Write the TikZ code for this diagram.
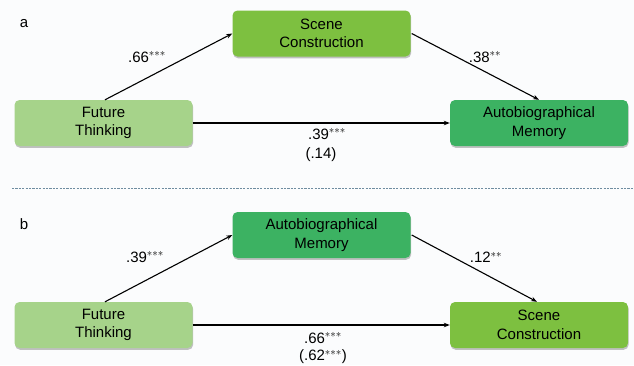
\documentclass[tikz,border=0pt]{standalone}
\usepackage{fontspec}
\setmainfont{Liberation Sans}
\usetikzlibrary{arrows.meta,shadows}
\definecolor{ftgreen}{RGB}{166,211,138}
\definecolor{scgreen}{RGB}{125,192,64}
\definecolor{amgreen}{RGB}{60,178,98}
\definecolor{dashblue}{RGB}{110,140,160}
\definecolor{bgc}{RGB}{251,252,253}
\tikzset{
  box/.style={rounded corners=5pt, minimum width=178pt, minimum height=46pt,
    align=center, inner sep=0pt, font=\fontsize{15}{18.5}\selectfont,
    drop shadow={shadow xshift=0.6pt, shadow yshift=-1.8pt, opacity=0.4, fill=black!60}},
  ftbox/.style={box, fill=ftgreen},
  scbox/.style={box, fill=scgreen},
  ambox/.style={box, fill=amgreen},
  conn/.style={-{Stealth[length=6pt,width=4.5pt]}, line width=1.1pt, black},
  coef/.style={font=\fontsize{15}{18}\selectfont, inner sep=0pt},
  panel/.style={font=\fontsize{15}{18}\selectfont, inner sep=0pt}
}
\begin{document}
\begin{tikzpicture}[x=1pt,y=-1pt]
\fill[bgc] (0,0) rectangle (634,365);
\useasboundingbox (0,0) rectangle (634,365);
% panel a
\node[panel] (la) at (24,24) {a};
\node[ftbox] (ftA) at (103.5,123) {Future\\Thinking};
\node[scbox] (scA) at (321.5,33.5) {Scene\\Construction};
\node[ambox] (amA) at (539,123) {Autobiographical\\Memory};
\draw[conn] ([xshift=1.5pt]ftA.north) -- (scA.west);
\draw[conn] ([xshift=1pt]scA.east) -- (amA.north);
\draw[conn] (ftA.east) -- (amA.west);
\node[coef] (c1) at (147,57) {.66$^{***}$};
\node[coef] (c2) at (485,57) {.38$^{**}$};
\node[coef] (c3) at (327,134) {.39$^{***}$};
\node[coef] (c4) at (321,155) {(.14)};
% divider
\coordinate (dl) at (12,188);
\coordinate (dr) at (634,188);
\draw[dashblue, line width=0.7pt, dash pattern=on 2.2pt off 1.2pt] (dl) -- (dr);
% panel b
\node[panel] (lb) at (24,224) {b};
\node[ftbox] (ftB) at (103.5,325) {Future\\Thinking};
\node[ambox] (amB) at (321.5,235) {Autobiographical\\Memory};
\node[scbox] (scB) at (539,325) {Scene\\Construction};
\draw[conn] ([xshift=1.5pt]ftB.north) -- (amB.west);
\draw[conn] ([xshift=1pt]amB.east) -- ([xshift=-2pt]scB.north);
\draw[conn] (ftB.east) -- (scB.west);
\node[coef] (d1) at (145,257) {.39$^{***}$};
\node[coef] (d2) at (486,257) {.12$^{**}$};
\node[coef] (d3) at (323,338) {.66$^{***}$};
\node[coef] (d4) at (323,357) {(.62$^{***}$)};
\end{tikzpicture}
\end{document}
